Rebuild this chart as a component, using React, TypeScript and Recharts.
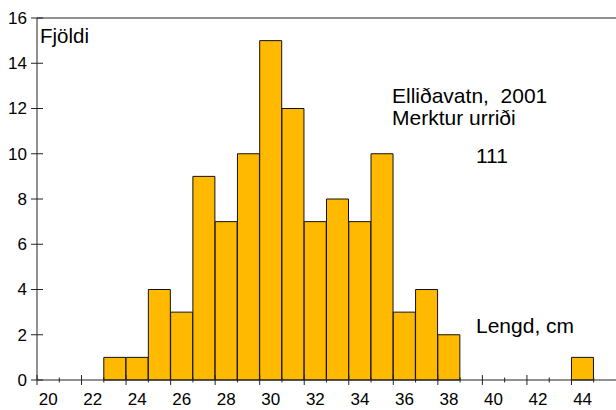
import React from "react";
import { BarChart, Bar, XAxis, YAxis, ReferenceLine } from "recharts";

// Length bins (cm) and number of fish in each bin
const LENGTHS = [20, 21, 22, 23, 24, 25, 26, 27, 28, 29, 30, 31, 32, 33, 34, 35, 36, 37, 38, 39, 40, 41, 42, 43, 44, 45];
const COUNTS = [0, 0, 0, 1, 1, 4, 3, 9, 7, 10, 15, 12, 7, 8, 7, 10, 3, 4, 2, 0, 0, 0, 0, 0, 1, 0];

// Axis ticks
const X_EDGES = [19.5, 20.5, 21.5, 22.5, 23.5, 24.5, 25.5, 26.5, 27.5, 28.5, 29.5, 30.5, 31.5, 32.5, 33.5, 34.5, 35.5, 36.5, 37.5, 38.5, 39.5, 40.5, 41.5, 42.5, 43.5, 44.5];
const X_LABELS = [20, 22, 24, 26, 28, 30, 32, 34, 36, 38, 40, 42, 44];
const Y_TICKS = [0, 2, 4, 6, 8, 10, 12, 14, 16];

const data = LENGTHS.map((len, i) => ({ len, n: COUNTS[i] }));
const X_TICKS = [...X_EDGES, ...X_LABELS].sort((a, b) => a - b);

const FONT = "'Liberation Sans', Arial, sans-serif";
const AXIS = "#222";
const TICK_SIZE = 6;
const TICK_MARGIN = 2;
const OFF = TICK_SIZE + TICK_MARGIN;

const XTick = (props: any) => {
  const { x, y, payload } = props;
  const ay = y - OFF; // axis line position
  const v = payload.value as number;
  if (v % 1 !== 0) {
    const major = Math.floor(v) % 2 === 1;
    const len = major ? 5 : 2.5;
    return <line x1={x} x2={x} y1={ay - len} y2={ay + len} stroke={AXIS} strokeWidth={1} />;
  }
  if (X_LABELS.includes(v)) {
    return (
      <text x={x} y={ay + 25} textAnchor="middle" fontFamily={FONT} fontSize={17} fill="#000">
        {v}
      </text>
    );
  }
  return <g />;
};

const YTick = (props: any) => {
  const { x, y, payload } = props;
  const ax = x + OFF; // axis line position
  return (
    <g>
      <line x1={ax - 6} x2={ax + 6} y1={y} y2={y} stroke={AXIS} strokeWidth={1} />
      <text x={ax - 10} y={y} dy="0.35em" textAnchor="end" fontFamily={FONT} fontSize={17} fill="#000">
        {payload.value}
      </text>
    </g>
  );
};

export default function App() {
  return (
    <div style={{ position: "absolute", left: 0, top: 0, width: 616, height: 410, overflow: "hidden", background: "#fff" }}>
      <BarChart
        width={616}
        height={410}
        data={data}
        margin={{ top: 18, right: 0, bottom: 0, left: 0 }}
        barCategoryGap={0}
        barGap={0}
      >
        <XAxis
          dataKey="len"
          type="number"
          domain={[19.5, 45.5]}
          allowDataOverflow
          ticks={X_TICKS}
          interval={0}
          tick={<XTick />}
          tickLine={false}
          tickSize={TICK_SIZE}
          tickMargin={TICK_MARGIN}
          height={30}
          axisLine={{ stroke: AXIS, strokeWidth: 1 }}
        />
        <YAxis
          type="number"
          domain={[0, 16]}
          ticks={Y_TICKS}
          interval={0}
          tick={<YTick />}
          tickLine={false}
          tickSize={TICK_SIZE}
          tickMargin={TICK_MARGIN}
          width={37}
          axisLine={{ stroke: AXIS, strokeWidth: 1 }}
        />
        <ReferenceLine y={16} stroke={AXIS} strokeWidth={1} />
        <Bar dataKey="n" fill="#FFBA00" stroke="#111" strokeWidth={1} isAnimationActive={false} />
      </BarChart>
      <svg
        width={616}
        height={410}
        style={{ position: "absolute", left: 0, top: 0, pointerEvents: "none" }}
        fontFamily={FONT}
        fontSize={21}
        fill="#000"
      >
        <text x={40} y={43} fontSize={20.5}>Fjöldi</text>
        <text x={392} y={103} style={{ whiteSpace: "pre" }}>{"Elliðavatn,  2001"}</text>
        <text x={392} y={125}>Merktur urriði</text>
        <text x={476} y={163}>111</text>
        <text x={476} y={333}>Lengd, cm</text>
      </svg>
    </div>
  );
}
